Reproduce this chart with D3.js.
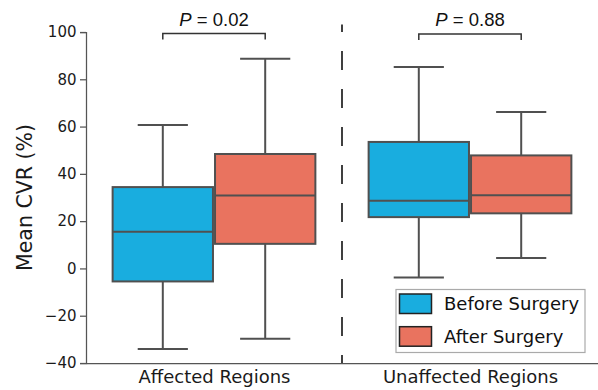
<!DOCTYPE html>
<html>
<head>
<meta charset="utf-8">
<script src="https://cdn.jsdelivr.net/npm/d3@7"></script>
<style>
  body { margin: 0; background: #fff; }
  svg { display: block; }
</style>
</head>
<body>
<div id="chart"></div>
<script>
const width = 598;
const height = 390;

// data: [lower whisker, Q1, median, Q3, upper whisker]
const regions = ["Affected Regions", "Unaffected Regions"];
const groups = ["Before Surgery", "After Surgery"];
const beforeSurgery = [[-34.1, -5.5, 15.5, 34.4, 60.7], [-3.8, 21.7, 28.6, 53.5, 85.2]];
const afterSurgery = [[-29.7, 10.4, 30.8, 48.4, 88.7], [4.4, 23.3, 30.9, 47.8, 66.2]];
const pValues = ["0.02", "0.88"];
const yTicks = [-40, -20, 0, 20, 40, 60, 80, 100];
const colors = ["#19addf", "#e9735f"];

const margin = { top: 32, right: 0, bottom: 27, left: 86 };
const edge = "#505050";

const svg = d3.select("#chart").append("svg")
  .attr("width", width).attr("height", height)
  .attr("xmlns", "http://www.w3.org/2000/svg");

const x = d3.scaleLinear()
  .domain([-0.5, 1.5])
  .range([margin.left, width - margin.right]);
const y = d3.scaleLinear()
  .domain([-40, 100])
  .range([height - margin.bottom, margin.top]);

const band = x(1) - x(0);
const boxW = band * 0.8 / 2 * 0.98;
const offsets = [-band * 0.2, band * 0.2];

// axes
const yAxis = svg.append("g")
  .attr("transform", `translate(${margin.left},0)`)
  .call(d3.axisLeft(y).tickValues(yTicks).tickSize(6).tickPadding(3.5)
    .tickFormat(d => d < 0 ? "\u2212" + Math.abs(d) : d));
yAxis.selectAll("path, line").attr("stroke", "#555").attr("stroke-width", 1.25);
yAxis.selectAll("text").attr("font-family", "DejaVu Sans").attr("font-size", "15px").attr("fill", "#1a1a1a");

const xAxis = svg.append("g")
  .attr("transform", `translate(0,${y(-40)})`)
  .call(d3.axisBottom(x).tickValues([0, 1]).tickSize(0).tickPadding(7)
    .tickFormat((d, i) => regions[i]));
xAxis.select("path").attr("stroke", "#555").attr("stroke-width", 1.25);
xAxis.selectAll("text").attr("font-family", "DejaVu Sans").attr("font-size", "18px").attr("fill", "#1a1a1a");

svg.append("text")
  .attr("transform", `translate(25,${(y(100) + y(-40)) / 2}) rotate(-90)`)
  .attr("text-anchor", "middle")
  .attr("dominant-baseline", "central")
  .attr("font-family", "DejaVu Sans")
  .attr("font-size", "20.5px")
  .attr("fill", "#1a1a1a")
  .text("Mean CVR (%)");

// separator
svg.append("line")
  .attr("x1", x(0.5)).attr("x2", x(0.5))
  .attr("y1", 24.5).attr("y2", y(-40))
  .attr("stroke", "#111").attr("stroke-width", 1.6)
  .attr("stroke-dasharray", "19,19").attr("stroke-dashoffset", 11.5);

// boxes
const series = [beforeSurgery, afterSurgery];
series.forEach((stats, gi) => {
  const g = svg.append("g");
  const items = stats.map((s, ri) => ({ s, cx: x(ri) + offsets[gi] }));
  g.selectAll(".whisker").data(items).enter().append("line")
    .attr("x1", d => d.cx).attr("x2", d => d.cx)
    .attr("y1", d => y(d.s[0])).attr("y2", d => y(d.s[4]))
    .attr("stroke", edge).attr("stroke-width", 2);
  [0, 4].forEach(k => {
    g.selectAll(".cap" + k).data(items).enter().append("line")
      .attr("x1", d => d.cx - boxW / 4).attr("x2", d => d.cx + boxW / 4)
      .attr("y1", d => y(d.s[k])).attr("y2", d => y(d.s[k]))
      .attr("stroke", edge).attr("stroke-width", 2);
  });
  g.selectAll("rect").data(items).enter().append("rect")
    .attr("x", d => d.cx - boxW / 2).attr("width", boxW)
    .attr("y", d => y(d.s[3])).attr("height", d => y(d.s[1]) - y(d.s[3]))
    .attr("fill", colors[gi]).attr("stroke", edge).attr("stroke-width", 2);
  g.selectAll(".median").data(items).enter().append("line")
    .attr("x1", d => d.cx - boxW / 2).attr("x2", d => d.cx + boxW / 2)
    .attr("y1", d => y(d.s[2])).attr("y2", d => y(d.s[2]))
    .attr("stroke", edge).attr("stroke-width", 2);
});

// p-value brackets
pValues.forEach((p, ri) => {
  const x1 = x(ri) + offsets[0], x2 = x(ri) + offsets[1];
  const top = 33.5 + ri * 0.5;
  svg.append("path")
    .attr("d", `M${x1},${top + 6}V${top}H${x2}V${top + 6}`)
    .attr("fill", "none").attr("stroke", "#333").attr("stroke-width", 1.5);
  const t = svg.append("text")
    .attr("x", (x1 + x2) / 2).attr("y", 25.5)
    .attr("text-anchor", "middle")
    .attr("font-family", "Liberation Sans")
    .attr("font-size", "18.5px")
    .attr("fill", "#111");
  t.append("tspan").attr("font-style", "italic").text("P");
  t.append("tspan").text(" = " + p);
});

// legend
const legend = svg.append("g").attr("transform", "translate(396,289.5)");
legend.append("rect")
  .attr("width", 189).attr("height", 63)
  .attr("fill", "rgba(255,255,255,0.8)")
  .attr("stroke", "#aaa").attr("stroke-width", 1.2);
groups.forEach((name, i) => {
  const row = legend.append("g").attr("transform", `translate(0,${4.5 + i * 32.7})`);
  row.append("rect")
    .attr("x", 3.5).attr("width", 32).attr("height", 19.5)
    .attr("fill", colors[i]).attr("stroke", "#222").attr("stroke-width", 1.5);
  row.append("text")
    .attr("x", 48).attr("y", 9.75)
    .attr("dominant-baseline", "central")
    .attr("font-family", "DejaVu Sans")
    .attr("font-size", "18px")
    .attr("fill", "#111")
    .text(name);
});
</script>
</body>
</html>
